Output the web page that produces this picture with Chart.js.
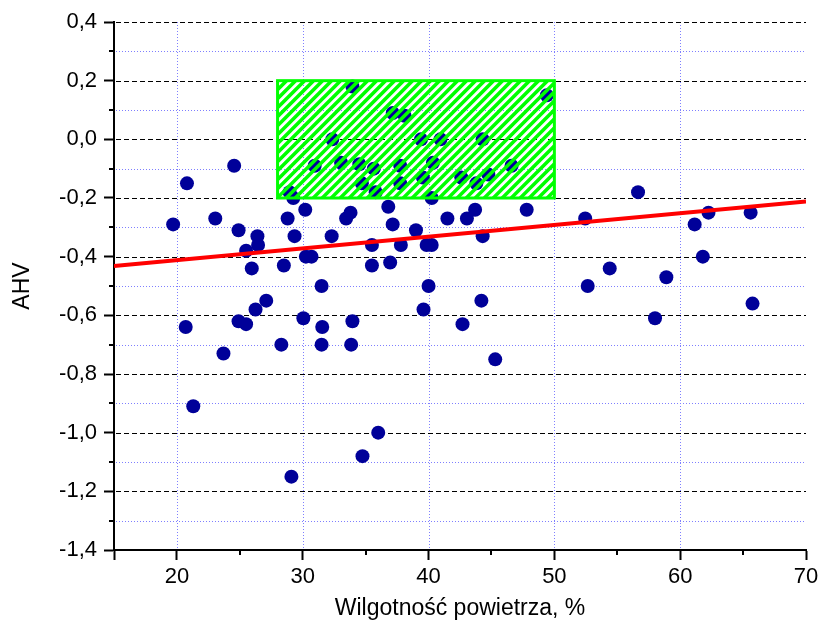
<!DOCTYPE html>
<html>
<head>
<meta charset="utf-8">
<title>AHV vs humidity</title>
<script src="https://cdn.jsdelivr.net/npm/chart.js@4.4.1/dist/chart.umd.min.js"></script>
<style>
  html, body { margin: 0; padding: 0; background: #fff; }
  #wrap { width: 819px; height: 630px; }
</style>
</head>
<body>
<div id="wrap"><canvas id="chart" width="819" height="630"></canvas></div>
<script>
// Measured points: air humidity (%) and AHV
const humidity = [
  19.7, 20.8, 20.7, 21.3, 23.05, 23.7, 24.55, 24.9, 24.9, 25.5,
  25.5, 25.95, 26.25, 26.4, 26.45, 27.1, 28.3, 28.5, 28.8, 28.95,
  29.1, 29.35, 29.25, 30.05, 30.2, 30.25, 30.7, 31.5, 31.55, 31.5,
  30.95, 32.35, 32.3, 33.05, 33.45, 33.8, 33.85, 33.95, 33.95, 34.5,
  34.7, 34.75, 35.5, 35.5, 35.65, 35.8, 36.0, 36.8, 36.95, 37.15,
  37.15, 38.1, 37.75, 37.75, 37.8, 39.0, 39.4, 39.55, 39.6, 39.85,
  40.0, 40.25, 40.35, 40.25, 40.95, 41.5, 42.6, 42.7, 43.05, 43.7,
  43.8, 44.2, 44.3, 44.3, 44.75, 45.3, 46.6, 47.8, 49.4, 52.45,
  52.65, 54.4, 56.65, 58.0, 58.9, 61.15, 61.8, 62.25, 65.6, 65.75
];
const ahv = [
  -0.29, -0.15, -0.64, -0.91, -0.27, -0.73, -0.09, -0.31, -0.62, -0.38,
  -0.63, -0.44, -0.58, -0.33, -0.36, -0.55, -0.70, -0.43, -0.27, -0.18,
  -1.15, -0.33, -0.20, -0.61, -0.24, -0.40, -0.40, -0.50, -0.64, -0.70,
  -0.09, 0.00, -0.33, -0.08, -0.27, -0.25, -0.70, -0.62, 0.18, -0.085,
  -0.15, -1.08, -0.36, -0.43, -0.10, -0.18, -1.00, -0.23, -0.42, -0.29,
  0.09, 0.08, -0.09, -0.15, -0.36, -0.31, 0.00, -0.13, -0.58, -0.36,
  -0.50, -0.36, -0.08, -0.20, 0.00, -0.27, -0.13, -0.63, -0.27, -0.24,
  -0.15, -0.55, 0.00, -0.33, -0.12, -0.75, -0.09, -0.24, 0.15, -0.27,
  -0.50, -0.44, -0.18, -0.61, -0.47, -0.29, -0.40, -0.25, -0.25, -0.56
];

// Linear fit end points
const fitX = [15, 70];
const fitY = [-0.432, -0.212];

// Highlighted range
const boxX = [28, 50];
const boxY = [-0.2, 0.2];

// Axis ticks
const xTicks = [15, 20, 30, 40, 50, 60, 70];
const xMinor = [25, 35, 45, 55, 65];
const xGrid = [20, 30, 40, 50, 60];
const yTicks = [-1.4, -1.2, -1.0, -0.8, -0.6, -0.4, -0.2, 0.0, 0.2, 0.4];
const yMinor = [-1.3, -1.1, -0.9, -0.7, -0.5, -0.3, -0.1, 0.1, 0.3];

const TICK_FONT = { family: "'Liberation Sans', Arial, sans-serif", size: 22 };
const TITLE_FONT = { family: "'Liberation Sans', Arial, sans-serif", size: 23 };

function hline(ctx, x1, x2, y) {
  ctx.beginPath(); ctx.moveTo(x1, y); ctx.lineTo(x2, y); ctx.stroke();
}
function vline(ctx, x, y1, y2) {
  ctx.beginPath(); ctx.moveTo(x, y1); ctx.lineTo(x, y2); ctx.stroke();
}

// grid: dotted blue minor lines, dashed black major lines, short minor ticks
const gridLines = {
  id: 'gridLines',
  beforeDatasetsDraw(chart) {
    const { ctx, chartArea: a, scales: { x, y } } = chart;
    ctx.save();
    ctx.lineWidth = 1;
    ctx.strokeStyle = '#7f7fff';
    ctx.setLineDash([1, 2]);
    yMinor.forEach(v => hline(ctx, a.left + 2, a.right, Math.round(y.getPixelForValue(v)) + 0.5));
    xGrid.forEach(v => vline(ctx, Math.round(x.getPixelForValue(v)) + 0.5, a.top, a.bottom - 1));

    ctx.strokeStyle = '#000';
    ctx.setLineDash([5, 3]);
    yTicks.filter(v => v > -1.4).forEach(v => hline(ctx, a.left + 2, a.right, Math.round(y.getPixelForValue(v)) + 0.5));

    ctx.setLineDash([]);
    ctx.lineWidth = 2;
    yMinor.forEach(v => hline(ctx, a.left - 5, a.left, Math.round(y.getPixelForValue(v))));
    xMinor.forEach(v => vline(ctx, Math.round(x.getPixelForValue(v)), a.bottom, a.bottom + 5));
    ctx.restore();
  }
};

// green hatched rectangle over the points
const hatchBox = {
  id: 'hatchBox',
  afterDatasetsDraw(chart) {
    const { ctx, scales: { x, y } } = chart;
    const left = x.getPixelForValue(boxX[0]);
    const right = x.getPixelForValue(boxX[1]);
    const top = y.getPixelForValue(boxY[1]);
    const bottom = y.getPixelForValue(boxY[0]);
    const h = bottom - top;
    ctx.save();
    ctx.beginPath();
    ctx.rect(left, top, right - left, h);
    ctx.clip();
    ctx.strokeStyle = '#00ff00';
    ctx.lineWidth = 3.5;
    ctx.beginPath();
    for (let sx = left - h; sx < right + 9; sx += 9) {
      ctx.moveTo(sx, bottom);
      ctx.lineTo(sx + h, top);
    }
    ctx.stroke();
    ctx.restore();

    ctx.save();
    ctx.strokeStyle = '#00ff00';
    ctx.lineWidth = 3;
    ctx.strokeRect(left, top, right - left, h);
    ctx.restore();
  }
};

const ctx = document.getElementById('chart').getContext('2d');

new Chart(ctx, {
  type: 'scatter',
  data: {
    datasets: [
      {
        label: 'fit',
        data: fitX.map((v, i) => ({ x: v, y: fitY[i] })),
        showLine: true,
        borderColor: '#ff0000',
        borderWidth: 4,
        pointRadius: 0
      },
      {
        label: 'AHV',
        data: humidity.map((v, i) => ({ x: v, y: ahv[i] })),
        backgroundColor: '#000099',
        borderColor: '#000099',
        borderWidth: 0,
        pointRadius: 7
      }
    ]
  },
  options: {
    responsive: false,
    animation: false,
    devicePixelRatio: 1,
    layout: { padding: { left: 0, right: 13, top: 22, bottom: 0 } },
    plugins: {
      legend: { display: false },
      tooltip: { enabled: false }
    },
    scales: {
      x: {
        type: 'linear',
        min: 15,
        max: 70,
        afterBuildTicks: axis => { axis.ticks = xTicks.map(v => ({ value: v })); },
        afterFit: axis => {
          axis.height = 80;
          axis.paddingLeft = 0;
          axis.paddingRight = 0;
        },
        grid: {
          drawOnChartArea: false,
          tickLength: 10,
          tickColor: '#000',
          tickWidth: 2
        },
        border: { color: '#000', width: 2 },
        ticks: {
          color: '#000',
          font: TICK_FONT,
          padding: 4,
          maxRotation: 0,
          callback: v => (v === 15 ? '' : String(v))
        },
        title: {
          display: true,
          text: 'Wilgotność powietrza, %',
          color: '#000',
          font: TITLE_FONT,
          padding: { top: 0, bottom: 8 }
        }
      },
      y: {
        type: 'linear',
        min: -1.4,
        max: 0.4,
        afterBuildTicks: axis => { axis.ticks = yTicks.map(v => ({ value: v })); },
        afterFit: axis => {
          axis.width = 114;
          axis.paddingTop = 0;
          axis.paddingBottom = 0;
        },
        grid: {
          drawOnChartArea: false,
          tickLength: 10,
          tickColor: '#000',
          tickWidth: 2
        },
        border: { color: '#000', width: 2 },
        ticks: {
          color: '#000',
          font: TICK_FONT,
          padding: 7,
          callback: v => v.toFixed(1).replace('.', ',')
        },
        title: {
          display: true,
          text: 'AHV',
          color: '#000',
          font: TITLE_FONT,
          padding: { top: 9, bottom: 0 }
        }
      }
    }
  },
  plugins: [gridLines, hatchBox]
});
</script>
</body>
</html>
